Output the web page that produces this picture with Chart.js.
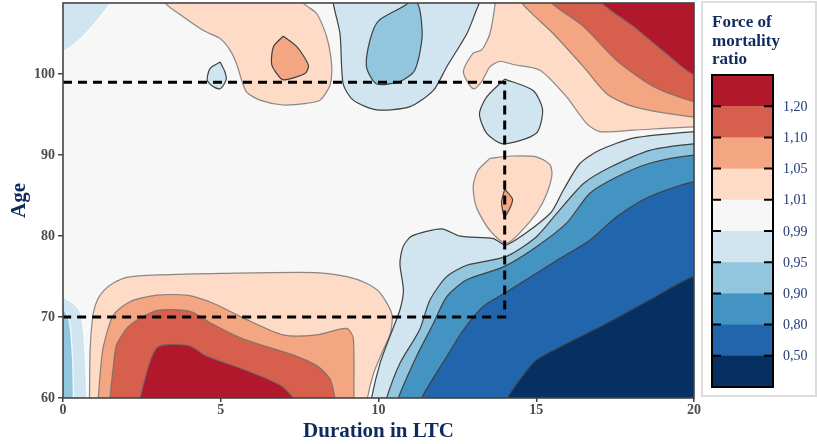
<!DOCTYPE html>
<html>
<head>
<meta charset="utf-8">
<script src="https://cdn.jsdelivr.net/npm/chart.js@4.4.1/dist/chart.umd.min.js"></script>
<style>
html,body{margin:0;padding:0;background:#ffffff;}
#wrap{width:817px;height:444px;position:relative;}
</style>
</head>
<body>
<div id="wrap"><canvas id="c" width="817" height="444"></canvas></div>
<script>
// ---------------- DATA (duration in LTC, age) ----------------
const durationTicks = [0, 5, 10, 15, 20];
const ageTicks = [60, 70, 80, 90, 100];
const legendTitle = ['Force of', 'mortality', 'ratio'];
const levelLabels = ['1,20', '1,10', '1,05', '1,01', '0,99', '0,95', '0,90', '0,80', '0,50'];

// reference box (dashed)
const boxDuration = [0, 14, 14, 0];
const boxAge = [99, 99, 70, 70];

// iso-regions: [duration, age]
// ratio > 1.01
const above101_lowAge = [[0.84,59],[0.84,60],[0.86,66],[0.96,70.5],[1.1,72.2],[1.3,73.3],[1.6,74.2],[2.02,74.9],[3.0,75.2],[5.0,75.4],[8.0,75.5],[9.0,75.0],[9.6,74.2],[10.05,73.0],[10.42,70.4],[10.38,68.0],[10.1,65.5],[9.84,63.0],[9.65,60],[9.65,59]];
const above101_oldLeft = [[3.23,110],[3.23,108.8],[3.81,107.1],[4.45,105.4],[4.98,104.4],[5.29,103.0],[5.5,101.3],[5.66,99.3],[5.82,97.8],[6.24,96.8],[6.98,96.2],[7.72,96.4],[8.15,96.8],[8.46,98.6],[8.52,100.9],[8.36,104.6],[8.04,107.5],[7.62,108.8],[7.6,110]];
const above101_oldRight = [[13.7,110],[13.7,108.8],[13.53,105.0],[13.27,103.0],[13.0,102.6],[12.69,100.3],[13.0,98.2],[13.27,99.1],[13.53,100.9],[13.85,101.6],[14.27,101.2],[15.12,100.5],[15.96,97.2],[16.6,93.9],[17.02,92.9],[18.08,93.1],[20,93.5],[21,93.5],[21,110]];
const above101_mid = [[13.53,89.6],[14.2,89.9],[15.0,89.8],[15.44,88.8],[15.49,87.3],[15.2,84.1],[14.8,81.8],[14.06,79.1],[13.53,80.7],[13.1,83.6],[13.0,86.1],[13.15,88.1]];
// ratio > 1.05
const above105_lowAge = [[1.12,59],[1.12,60],[1.2,64],[1.28,66.4],[1.59,70.2],[2.12,71.9],[2.97,72.7],[3.92,72.7],[4.76,71.7],[5.71,69.9],[6.98,67.8],[8.04,67.8],[8.99,68.6],[9.2,67.4],[9.22,60],[9.22,59]];
const above105_oldSpot = [[6.98,104.7],[6.67,103.4],[6.61,101.3],[6.77,100.1],[6.98,99.3],[7.67,100.1],[7.78,101.1],[7.41,103.4]];
const above105_oldRight = [[14.54,110],[14.54,108.8],[15.54,105.0],[16.5,100.9],[17.23,97.6],[18.08,96.0],[20,94.7],[21,94.6],[21,110]];
const above105_midSpot = [[14.0,85.8],[14.25,84.5],[14.0,82.4],[13.9,84.2]];
// ratio > 1.10
const above110_lowAge = [[1.49,59],[1.49,60],[1.6,64],[1.7,66.6],[2.12,69.0],[2.97,70.8],[4.03,70.7],[4.66,69.3],[5.71,67.3],[7.3,65.3],[8.04,64.0],[8.46,62.4],[8.62,60],[8.62,59]];
const above110_oldRight = [[15.49,110],[15.49,108.8],[16.5,105.9],[17.55,101.7],[18.71,98.5],[20,96.6],[21,96.4],[21,110]];
// ratio > 1.20
const above120_lowAge = [[2.44,59],[2.44,60],[2.97,66.2],[3.97,66.5],[4.55,65.2],[5.82,63.4],[6.88,61.6],[7.3,60],[7.3,59]];
const above120_oldRight = [[17.07,110],[17.07,108.8],[18.08,105.9],[19.13,102.5],[20,99.9],[21,99.2],[21,110]];
// ratio < 0.99
const below099_corner = [[-1,110],[1.5,110],[1.5,108.8],[0.76,105.2],[0,102.8],[-1,102.4]];
const below099_leftStrip = [[-1,72.6],[0,72.4],[0.35,71.6],[0.55,70.6],[0.66,68],[0.72,64],[0.76,60],[0.76,59],[-1,59]];
const below099_oldSpot = [[4.98,101.5],[4.66,100.7],[4.57,99.3],[4.71,98.6],[4.98,98.2],[5.17,99.3],[5.13,100.3]];
const below099_topMid = [[8.57,110],[8.57,108.7],[8.78,105.0],[8.88,98.8],[9.2,96.8],[9.94,95.6],[11.0,96.0],[11.74,98.0],[12.16,100.9],[12.8,105.0],[13.1,107.9],[13.2,108.9],[13.2,110]];
const below099_nearBox = [[14.0,99.4],[14.9,98.0],[15.2,95.6],[15.0,92.7],[13.96,91.4],[13.43,92.7],[13.2,95.1],[13.43,97.2]];
const below099_longDur = [[21,93.0],[20,92.9],[18.07,92.1],[17.0,90.6],[16.39,89.0],[15.86,85.7],[15.44,82.8],[14.06,78.9],[13.64,79.7],[12.58,80.0],[12.0,80.9],[11.05,80.0],[10.78,78.7],[10.68,76.6],[10.79,73.3],[10.68,70.9],[10.36,67.6],[10.05,64.3],[9.78,60],[9.78,59],[21,59]];
// ratio < 0.95
const below095_leftStrip = [[-1,71.2],[0,71.0],[0.2,69.5],[0.3,65],[0.33,60],[0.33,59],[-1,59]];
const below095_topMid = [[10.9,110],[10.94,108.8],[10.0,106.6],[9.73,104.2],[9.62,100.9],[9.94,98.8],[10.68,99.1],[11.15,100.5],[11.38,104.5],[11.3,108.1],[11.05,110]];
const below095_longDur = [[21,91.5],[20,91.4],[18.6,90.6],[17.34,88.5],[16.5,86.5],[15.65,82.8],[15.0,79.9],[14.06,77.5],[12.8,76.4],[12.16,75.0],[11.63,72.1],[11.3,68.4],[10.68,64.3],[10.26,60],[10.26,59],[21,59]];
// ratio < 0.90
const below090_longDur = [[21,90.0],[20,90.0],[18.6,89.0],[17.55,87.3],[16.7,85.3],[15.96,81.6],[15.01,78.7],[13.96,76.2],[12.8,74.6],[12.16,72.5],[11.74,69.2],[11.2,65.1],[10.63,60],[10.63,59],[21,59]];
// ratio < 0.80
const below080_longDur = [[21,86.7],[20,86.7],[18.6,84.9],[17.55,82.4],[16.7,79.5],[15.65,77.0],[14.06,73.1],[13.32,71.3],[12.69,68.4],[12.16,65.1],[11.37,60],[11.37,59],[21,59]];
// ratio < 0.50
const below050_longDur = [[21,75.0],[20,75.0],[18.6,72.1],[17.23,69.2],[15.96,66.7],[15.01,64.7],[14.55,62.6],[14.1,60],[14.1,59],[21,59]];

// ---------------- STYLE ----------------
// band colours, low -> high ratio
const bandColors = ['#053061','#2166AC','#4393C3','#92C5DE','#D1E5F0','#F7F7F7','#FDDBC7','#F4A582','#D6604D','#B2182B'];
const SERIF = '"Liberation Serif", "Times New Roman", serif';
const NAVY = '#0f2a5c';
const LINE_DARK = '#404040', LINE_MID = 'rgba(110,110,110,0.8)', LINE_LIGHT = 'rgba(255,255,255,0.85)';

// drawing order (painter's algorithm)
const regions = [
  {pts: above101_lowAge, band: 6, line: LINE_MID},
  {pts: above101_oldLeft, band: 6, line: LINE_MID},
  {pts: above101_oldRight, band: 6, line: LINE_MID},
  {pts: above101_mid, band: 6, line: LINE_MID},
  {pts: above105_lowAge, band: 7, line: LINE_MID},
  {pts: above105_oldSpot, band: 7, line: LINE_DARK},
  {pts: above105_oldRight, band: 7, line: LINE_MID},
  {pts: above105_midSpot, band: 7, line: LINE_DARK},
  {pts: above110_lowAge, band: 8, line: LINE_MID},
  {pts: above110_oldRight, band: 8, line: LINE_MID},
  {pts: above120_lowAge, band: 9, line: LINE_MID},
  {pts: above120_oldRight, band: 9, line: LINE_MID},
  {pts: below099_corner, band: 4, line: LINE_LIGHT},
  {pts: below099_leftStrip, band: 4, line: LINE_LIGHT},
  {pts: below099_oldSpot, band: 4, line: LINE_DARK},
  {pts: below099_topMid, band: 4, line: LINE_DARK},
  {pts: below099_nearBox, band: 4, line: LINE_DARK},
  {pts: below099_longDur, band: 4, line: LINE_DARK},
  {pts: below095_leftStrip, band: 3, line: LINE_LIGHT},
  {pts: below095_topMid, band: 3, line: LINE_DARK},
  {pts: below095_longDur, band: 3, line: LINE_DARK},
  {pts: below090_longDur, band: 2, line: LINE_DARK},
  {pts: below080_longDur, band: 1, line: LINE_DARK},
  {pts: below050_longDur, band: 0, line: LINE_DARK}
];

const datasets = regions.map((r, i) => {
  const pts = r.pts.concat([r.pts[0]]);
  return {
    data: pts.map(p => ({x: p[0], y: p[1]})),
    showLine: true,
    fill: 'shape',
    backgroundColor: bandColors[r.band],
    borderColor: r.line,
    borderWidth: 1.2,
    pointRadius: 0,
    pointHoverRadius: 0,
    tension: 0.25,
    capBezierPoints: false,
    order: 1000 - i
  };
});
datasets.push({
  data: boxDuration.map((d, i) => ({x: d, y: boxAge[i]})),
  showLine: true,
  fill: false,
  borderColor: '#000000',
  borderWidth: 3,
  borderDash: [9, 6],
  pointRadius: 0,
  pointHoverRadius: 0,
  tension: 0,
  order: 0
});

const plotBg = {
  id: 'plotBg',
  beforeDatasetsDraw(chart) {
    const {ctx, chartArea: a} = chart;
    ctx.save();
    ctx.fillStyle = bandColors[5];
    ctx.fillRect(a.left, a.top, a.right - a.left, a.bottom - a.top);
    ctx.restore();
  },
  afterDatasetsDraw(chart) {
    const {ctx, chartArea: a} = chart;
    ctx.save();
    ctx.strokeStyle = '#444444';
    ctx.lineWidth = 1.6;
    ctx.strokeRect(a.left, a.top, a.right - a.left, a.bottom - a.top);
    ctx.restore();
  }
};

const colorLegend = {
  id: 'colorLegend',
  afterDraw(chart) {
    const {ctx, chartArea: a} = chart;
    const bx = a.right + 8, by = 2, bw = 114, bh = 394;
    ctx.save();
    ctx.strokeStyle = '#dcdcdc';
    ctx.lineWidth = 2;
    ctx.strokeRect(bx, by, bw, bh);
    ctx.fillStyle = NAVY;
    ctx.font = 'bold 17px ' + SERIF;
    ctx.textAlign = 'left';
    ctx.textBaseline = 'alphabetic';
    legendTitle.forEach((t, i) => ctx.fillText(t, bx + 10, by + 25 + i * 18.5));
    const cx = bx + 10, cw = 61, cy = 75, ch = 312;
    const n = bandColors.length;
    const step = ch / n;
    for (let i = 0; i < n; i++) {
      ctx.fillStyle = bandColors[n - 1 - i];
      ctx.fillRect(cx, cy + i * step, cw, step + 0.5);
    }
    ctx.strokeStyle = '#000000';
    ctx.lineWidth = 2;
    ctx.strokeRect(cx, cy, cw, ch);
    ctx.lineWidth = 2;
    ctx.font = '14px ' + SERIF;
    ctx.fillStyle = '#243b78';
    ctx.textBaseline = 'middle';
    levelLabels.forEach((lab, i) => {
      const y = cy + (i + 1) * step;
      ctx.beginPath();
      ctx.moveTo(cx, y); ctx.lineTo(cx + 9, y);
      ctx.moveTo(cx + cw - 9, y); ctx.lineTo(cx + cw, y);
      ctx.stroke();
      ctx.fillText(lab, cx + cw + 10, y + 1);
    });
    ctx.restore();
  }
};

Chart.defaults.font.family = SERIF;

new Chart(document.getElementById('c'), {
  type: 'scatter',
  data: {datasets},
  options: {
    responsive: false,
    animation: false,
    events: [],
    layout: {padding: {top: 3, right: 123, bottom: 0, left: 0}},
    plugins: {legend: {display: false}, tooltip: {enabled: false}},
    scales: {
      x: {
        type: 'linear', min: 0, max: 20,
        afterBuildTicks: s => { s.ticks = durationTicks.map(v => ({value: v})); },
        afterFit: s => { s.height = 46; s.paddingLeft = 0; s.paddingRight = 0; },
        ticks: {font: {size: 14, weight: 'bold'}, color: '#4d4d4d', padding: 0, maxRotation: 0, autoSkip: false},
        grid: {display: true, drawOnChartArea: false, drawTicks: true, tickLength: 4, color: '#444444', lineWidth: 1.5},
        border: {display: false},
        title: {display: true, text: 'Duration in LTC', color: NAVY, font: {size: 21, weight: 'bold'}, padding: {top: 0, bottom: 0}}
      },
      y: {
        type: 'linear', min: 60, max: 108.8,
        afterBuildTicks: s => { s.ticks = ageTicks.map(v => ({value: v})); },
        afterFit: s => { s.width = 63; s.paddingTop = 0; s.paddingBottom = 0; },
        ticks: {font: {size: 14, weight: 'bold'}, color: '#4d4d4d', padding: 3, autoSkip: false},
        grid: {display: true, drawOnChartArea: false, drawTicks: true, tickLength: 5, color: '#444444', lineWidth: 1.5},
        border: {display: false},
        title: {display: true, text: 'Age', color: NAVY, font: {size: 21, weight: 'bold'}, padding: {top: 7, bottom: 7}}
      }
    }
  },
  plugins: [plotBg, colorLegend]
});
</script>
</body>
</html>
